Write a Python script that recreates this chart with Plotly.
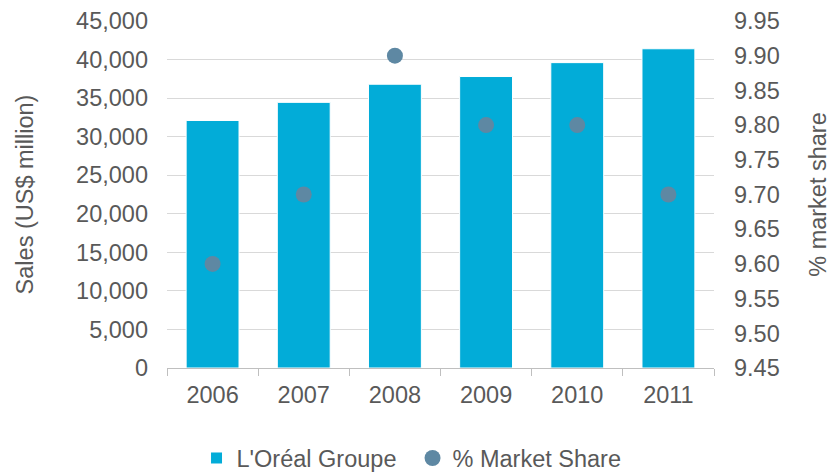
import plotly.graph_objects as go

years = ["2006", "2007", "2008", "2009", "2010", "2011"]
sales = [32100, 34450, 36800, 37800, 39600, 41400]
share = [9.60, 9.70, 9.90, 9.80, 9.80, 9.70]

font_family = "Liberation Sans, Arial, sans-serif"
txt = "#595959"
fs = 23.5

fig = go.Figure()
fig.add_trace(go.Bar(
    x=years, y=sales, name="L'Oréal Groupe",
    marker=dict(color="#02acd8", line=dict(color="white", width=1)),
    yaxis="y",
))
fig.add_trace(go.Scatter(
    x=years, y=share, name="% Market Share", mode="markers",
    marker=dict(color="#5e88a3", size=16),
    yaxis="y2",
))

fig.update_layout(
    width=831, height=472,
    margin=dict(l=167, r=117, t=21, b=104, autoexpand=False),
    paper_bgcolor="white", plot_bgcolor="white",
    font=dict(family=font_family, size=fs, color=txt),
    bargap=0.42,
    showlegend=True,
    legend=dict(orientation="h", x=0.054, xanchor="left",
                y=-0.26, yanchor="middle",
                font=dict(size=fs, color=txt), itemwidth=30,
                entrywidth=171, entrywidthmode="pixels",
                traceorder="normal"),
    xaxis=dict(
        automargin=False,
        showline=True, linecolor="#bfbfbf", linewidth=1,
        ticks="outside", tickson="boundaries", ticklen=7, tickcolor="#bfbfbf",
        showgrid=False, tickfont=dict(size=fs, color=txt),
        ticklabelstandoff=6,
    ),
    yaxis=dict(
        automargin=False,
        range=[0, 45000], dtick=5000, tickformat=",d",
        showgrid=True, gridcolor="#d9d9d9", gridwidth=1,
        zeroline=False, showline=False, ticks="",
        ticklabelstandoff=18,
        title=dict(text="Sales (US$ million)", font=dict(size=fs, color=txt), standoff=35),
    ),
    yaxis2=dict(
        automargin=False,
        range=[9.45, 9.95], dtick=0.05, tickformat=".2f",
        overlaying="y", side="right", showgrid=False, zeroline=False,
        showline=False, ticks="", ticklabelstandoff=19,
        title=dict(text="% market share", font=dict(size=fs, color=txt), standoff=30),
    ),
)

fig.write_html("out.html", config={"displayModeBar": False},
               post_script="document.body.style.margin='0';")
